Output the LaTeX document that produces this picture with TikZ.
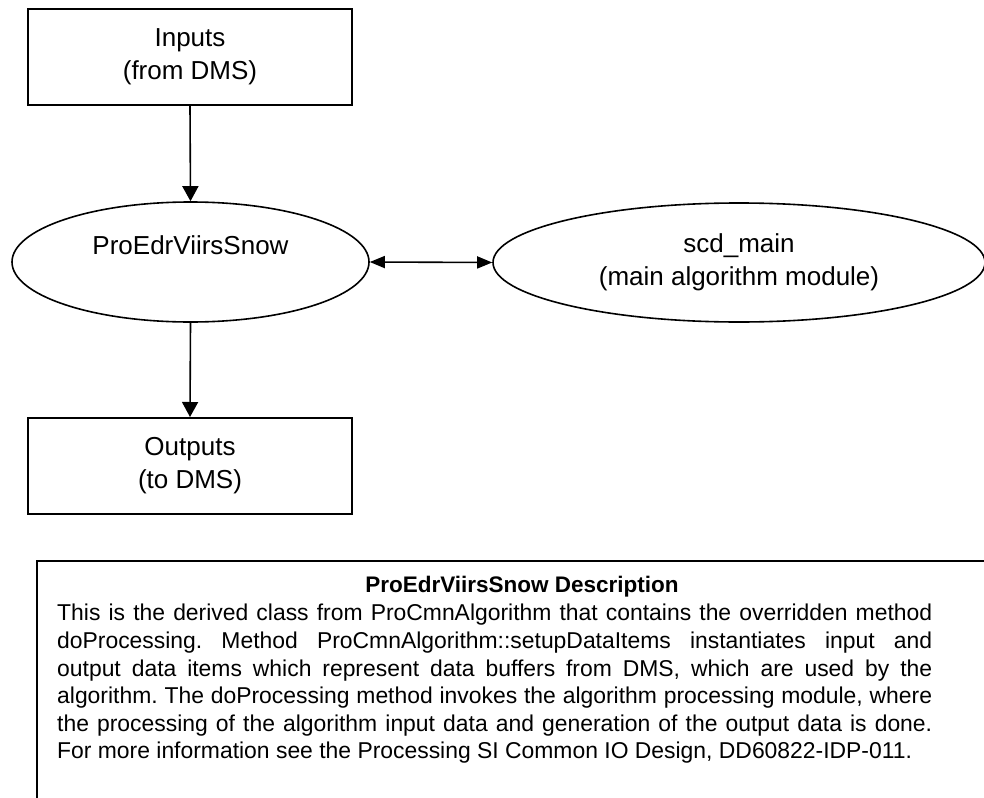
\documentclass[tikz,border=0pt]{standalone}
\usepackage{fontspec}
\setmainfont{Liberation Sans}
\usetikzlibrary{shapes.geometric,arrows.meta}
\begin{document}
\frenchspacing
\begin{tikzpicture}[x=1pt,y=-1pt,
  iobox/.style={draw, line width=2pt, minimum width=324pt, minimum height=96pt,
    inner sep=0pt, align=center, font=\fontsize{26}{33}\selectfont},
  proc/.style={draw, ellipse, line width=1.6pt, inner sep=0pt, align=center,
    font=\fontsize{26}{33}\selectfont},
  flow/.style={line width=1.6pt, -{Triangle[length=15pt,width=16pt]}},
  link/.style={line width=1.6pt,
    {Triangle[length=15pt,width=12pt]}-{Triangle[length=15pt,width=12pt]}},
  frame/.style={draw, line width=2pt, inner sep=0pt, anchor=north west},
  bodytext/.style={font=\fontsize{22.9}{27.6}\selectfont}]
\useasboundingbox (0,0) rectangle (984,797);
\clip (0,0) rectangle (984,797);

% flow chart
\node[iobox] (in) at (190,57) {Inputs\\(from DMS)};
\node[proc, minimum width=357pt, minimum height=120pt] (pro) at (190.5,262)
  {ProEdrViirsSnow\\\mbox{}};
\node[proc, minimum width=492pt, minimum height=119pt] (scd) at (739,262.5)
  {scd\_main\\(main algorithm module)};
\node[iobox] (out) at (190,466) {Outputs\\(to DMS)};

\draw[flow] (in.south) -- (pro.north);
\draw[link] (pro.east) -- (scd.west);
\draw[flow] (pro.south) -- (out.north);

% description panel
\node[frame, minimum width=974pt, minimum height=280pt] (desc) at (36,560) {};
\node[font=\bfseries\fontsize{22.5}{27.6}\selectfont, anchor=base]
  (title) at (522,592) {ProEdrViirsSnow Description};
\node[bodytext, anchor=north west, inner sep=0pt, text width=875pt, align=justify]
  (body) at (57,604)
  {This is the derived class from ProCmnAlgorithm that contains the overridden method\linebreak
   doProcessing. Method ProCmnAlgorithm::setupDataItems instantiates input and\linebreak
   output data items which represent data buffers from DMS, which are used by the\linebreak
   algorithm. The doProcessing method invokes the algorithm processing module, where\linebreak
   the processing of the algorithm input data and generation of the output data is done.\linebreak
   For more information see the Processing SI Common IO Design, DD60822-IDP-011.};
\end{tikzpicture}
\end{document}
